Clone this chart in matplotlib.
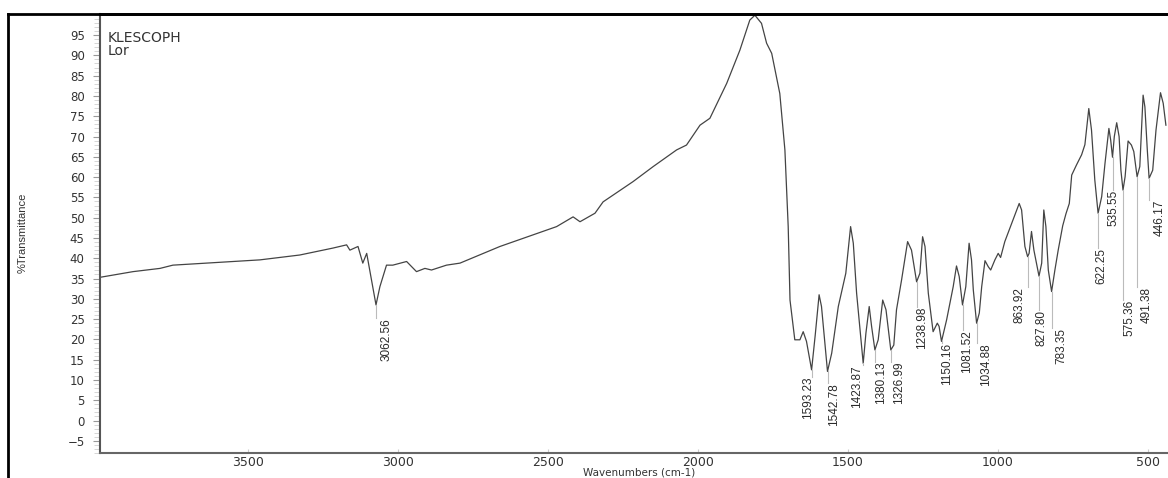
import numpy as np
import matplotlib
matplotlib.use('Agg')
import matplotlib.pyplot as plt
from matplotlib.lines import Line2D
from matplotlib.ticker import MultipleLocator

# spectrum: wavenumber (cm-1) and %T
wn = [3993, 3883, 3793, 3750, 3683, 3550, 3460, 3327, 3217, 3171, 3160, 3133, 3117, 3104,
      3073, 3060, 3038, 3017, 2971, 2938, 2910, 2888, 2838, 2793, 2660, 2471, 2416, 2393,
      2343, 2316, 2216, 2149, 2071, 2038, 1993, 1960, 1904, 1860, 1827, 1810, 1788, 1771,
      1754, 1727, 1710, 1699, 1693, 1677, 1660, 1649, 1638, 1621, 1609, 1596, 1588, 1568,
      1554, 1532, 1507, 1491, 1482, 1471, 1449, 1440, 1429, 1421, 1410, 1399, 1384, 1373,
      1357, 1347, 1338, 1321, 1301, 1288, 1271, 1260, 1251, 1243, 1232, 1216, 1202, 1196,
      1188, 1171, 1160, 1149, 1138, 1129, 1118, 1107, 1096, 1088, 1082, 1071, 1062, 1054,
      1043, 1032, 1024, 1010, 999, 991, 977, 954, 929, 921, 910, 901, 896, 888, 880, 863,
      854, 847, 840, 832, 821, 810, 799, 784, 773, 762, 754, 738, 721, 710, 697, 688, 677,
      666, 654, 643, 630, 624, 618, 612, 604, 596, 590, 583, 576, 566, 555, 547, 536, 527,
      516, 510, 502, 496, 484, 473, 458, 449, 440]
trans = [35.3, 36.7, 37.5, 38.3, 38.6, 39.2, 39.6, 40.8, 42.5, 43.3, 42.0, 42.9, 38.8, 41.2,
         28.5, 33.0, 38.3, 38.3, 39.2, 36.7, 37.5, 37.1, 38.3, 38.8, 42.9, 47.8, 50.2, 49.0,
         51.1, 53.9, 58.9, 62.6, 66.7, 67.9, 72.8, 74.5, 83.1, 91.3, 98.7, 99.9, 97.9, 93.0,
         90.5, 80.6, 66.7, 47.8, 29.7, 19.9, 19.9, 21.9, 19.5, 12.5, 21.0, 31.0, 28.1, 12.1,
         16.6, 28.1, 36.3, 47.8, 43.7, 31.4, 14.1, 21.5, 28.1, 23.2, 17.4, 19.9, 29.7, 27.3,
         17.4, 18.6, 27.3, 34.7, 44.1, 42.0, 34.2, 36.3, 45.3, 42.9, 31.4, 21.9, 24.0, 23.2,
         19.5, 24.8, 28.9, 33.0, 38.1, 35.5, 28.5, 33.0, 43.7, 39.6, 32.2, 24.0, 26.5, 33.0,
         39.4, 37.9, 37.1, 39.6, 41.2, 40.2, 44.1, 48.6, 53.5, 51.9, 42.9, 40.4, 41.2, 46.6,
         42.0, 35.6, 38.8, 51.9, 47.8, 37.1, 31.8, 37.1, 42.0, 48.0, 51.0, 53.5, 60.5, 63.0,
         65.5, 68.0, 76.9, 71.6, 59.3, 51.1, 55.2, 63.4, 72.0, 69.1, 64.9, 70.0, 73.4, 70.0,
         61.7, 56.8, 60.1, 68.9, 67.9, 66.3, 60.1, 62.6, 80.2, 77.3, 66.7, 59.7, 61.7, 71.6,
         80.8, 78.2, 72.8]

# peak labels: text, dip position, dip %T, label text x, label text top %T
peak_text = ['3062.56', '1593.23', '1542.78', '1423.87', '1380.13', '1326.99', '1238.98',
             '1150.16', '1081.52', '1034.88', '863.92', '827.80', '783.35', '622.25',
             '535.55', '575.36', '491.38', '446.17']
peak_wn = [3073, 1621, 1568, 1449, 1410, 1357, 1271, 1188, 1118, 1071, 901, 863, 821, 666,
           618, 583, 536, 496]
peak_t = [28.5, 12.5, 12.1, 14.1, 17.4, 17.4, 34.2, 19.5, 28.5, 24.0, 40.4, 35.6, 31.8,
          51.1, 64.9, 56.8, 60.1, 59.7]
label_wn = [3037, 1632, 1547, 1468, 1391, 1330, 1252, 1168, 1102, 1041, 927, 854, 788, 654,
            616, 560, 504, 460]
label_top = [25.3, 10.8, 9.2, 13.7, 14.5, 14.5, 28.1, 19.1, 22.3, 19.1, 33.0, 27.3, 22.8,
             42.5, 56.8, 29.7, 33.0, 54.4]

narrow = ['Liberation Sans Narrow', 'Liberation Sans', 'DejaVu Sans']

W, H = 1168, 478
fig = plt.figure(figsize=(W / 100, H / 100), dpi=100)
ax = fig.add_axes([100 / W, 25 / H, 1068 / W, 439 / H])

ax.plot(wn, trans, color='#444444', lw=0.9)

for i in range(len(peak_text)):
    ax.plot([peak_wn[i], peak_wn[i]], [peak_t[i], label_top[i]], color='#bbbbbb', lw=0.8)
    ax.text(label_wn[i], label_top[i], peak_text[i], rotation=90, ha='center', va='top',
            fontsize=8.5, color='#2a2a2a', family=narrow)

ax.set_xlim(3993, 433)
ax.set_ylim(-8, 100.2)
ax.xaxis.set_major_locator(MultipleLocator(500))
ax.yaxis.set_minor_locator(MultipleLocator(1))
ax.set_yticks(np.arange(-5, 100, 5))
ax.tick_params(axis='y', which='major', direction='out', length=5, width=0.8, color='#999999',
               labelsize=8.5, labelcolor='#333333', pad=6)
ax.tick_params(axis='y', which='minor', direction='out', length=4, width=0.6, color='#d0d0d0')
ax.tick_params(axis='x', which='major', direction='in', length=3, width=0.8, color='#cccccc',
               labelsize=9, labelcolor='#333333', pad=2)

ax.spines['right'].set_visible(False)
ax.spines['top'].set_color('black')
ax.spines['top'].set_linewidth(2)
ax.spines['left'].set_color('#555555')
ax.spines['left'].set_linewidth(1.5)
ax.spines['bottom'].set_color('#666666')
ax.spines['bottom'].set_linewidth(1.5)

ax.set_xlabel('Wavenumbers (cm-1)', fontsize=7.5, color='#333333', va='bottom')
ax.xaxis.set_label_coords((639 - 100) / 1068, -24.5 / 439)
ax.set_ylabel('%Transmittance', fontsize=8, color='#333333', family=narrow)
ax.yaxis.set_label_coords(-72 / 1068, (478 - 233 - 25) / 439)

ax.text(0.007, 0.962, 'KLESCOPH\nLor', transform=ax.transAxes, ha='left', va='top',
        fontsize=10, color='#333333', linespacing=0.9)

# outer frame
fig.add_artist(Line2D([8 / W, 1.0], [1 - 14 / H, 1 - 14 / H], color='black', lw=2))
fig.add_artist(Line2D([8 / W, 8 / W], [0, 1 - 14 / H], color='black', lw=2))

fig.savefig('out.png', dpi=100)
